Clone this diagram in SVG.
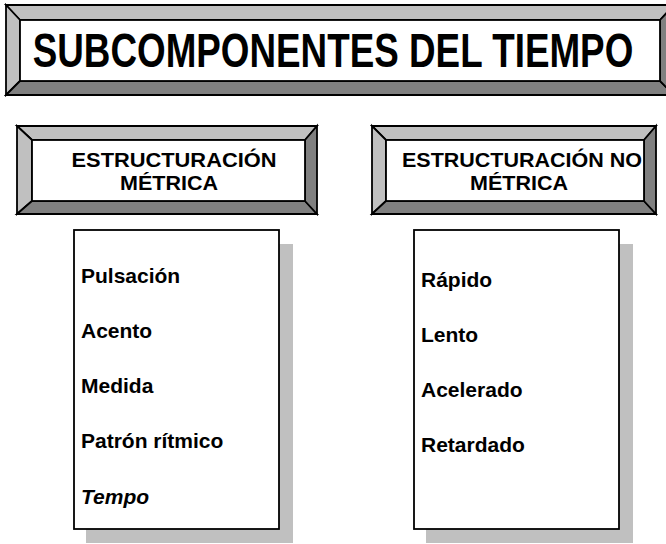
<svg xmlns="http://www.w3.org/2000/svg" width="666" height="544" viewBox="0 0 666 544">
<style>
.lt{fill:#c0c0c0;stroke:#000;stroke-width:1.8;stroke-linejoin:miter}
.dk{fill:#808080;stroke:#000;stroke-width:1.8;stroke-linejoin:miter}
.face{fill:#fff;stroke:#000;stroke-width:1.8}
.shadow{fill:#c0c0c0;stroke:none}
.t{font-family:"Liberation Sans",Arial,sans-serif;font-weight:bold;fill:#000}
.hd{font-size:21px;text-anchor:middle}
.it{font-size:21px}
</style>
<rect width="666" height="544" fill="#fff"/>
<g id="title">
<polygon class="lt" points="6,5 674,5 660,20 20,20"/>
<polygon class="lt" points="6,5 20,20 20,81 6,95"/>
<polygon class="dk" points="6,95 20,81 660,81 674,95"/>
<polygon class="dk" points="674,5 674,95 660,81 660,20"/>
<rect class="face" x="20" y="20" width="640" height="61"/>
<text class="t" transform="translate(333,67) scale(0.767,1)" x="0" y="0" font-size="48" text-anchor="middle">SUBCOMPONENTES DEL TIEMPO</text>
</g>
<g id="metrica-header">
<polygon class="lt" points="17,126 317,126 305,140 32,140"/>
<polygon class="lt" points="17,126 32,140 32,201 17,214"/>
<polygon class="dk" points="17,214 32,201 305,201 317,214"/>
<polygon class="dk" points="317,126 317,214 305,201 305,140"/>
<rect class="face" x="32" y="140" width="273" height="61"/>
<text class="t hd" x="174" y="167" textLength="205" lengthAdjust="spacingAndGlyphs">ESTRUCTURACIÓN</text>
<text class="t hd" x="169" y="190" textLength="98" lengthAdjust="spacingAndGlyphs">MÉTRICA</text>
</g>
<g id="no-metrica-header">
<polygon class="lt" points="372,126 656,126 644,140 386,140"/>
<polygon class="lt" points="372,126 386,140 386,201 372,214"/>
<polygon class="dk" points="372,214 386,201 644,201 656,214"/>
<polygon class="dk" points="656,126 656,214 644,201 644,140"/>
<rect class="face" x="386" y="140" width="258" height="61"/>
<text class="t hd" x="522" y="167" textLength="240" lengthAdjust="spacingAndGlyphs">ESTRUCTURACIÓN NO</text>
<text class="t hd" x="519" y="190" textLength="98" lengthAdjust="spacingAndGlyphs">MÉTRICA</text>
</g>
<g id="metrica-list">
<rect class="shadow" x="86" y="244" width="207" height="299"/>
<rect class="face" x="74" y="230" width="205" height="299"/>
<text class="t it" x="81" y="283">Pulsación</text>
<text class="t it" x="81" y="338">Acento</text>
<text class="t it" x="81" y="393">Medida</text>
<text class="t it" x="81" y="448">Patrón rítmico</text>
<text class="t it" x="81" y="504" font-style="italic">Tempo</text>
</g>
<g id="no-metrica-list">
<rect class="shadow" x="426" y="244" width="207" height="299"/>
<rect class="face" x="414" y="230" width="205" height="299"/>
<text class="t it" x="421" y="287">Rápido</text>
<text class="t it" x="421" y="342">Lento</text>
<text class="t it" x="421" y="397">Acelerado</text>
<text class="t it" x="421" y="452">Retardado</text>
</g>
</svg>
